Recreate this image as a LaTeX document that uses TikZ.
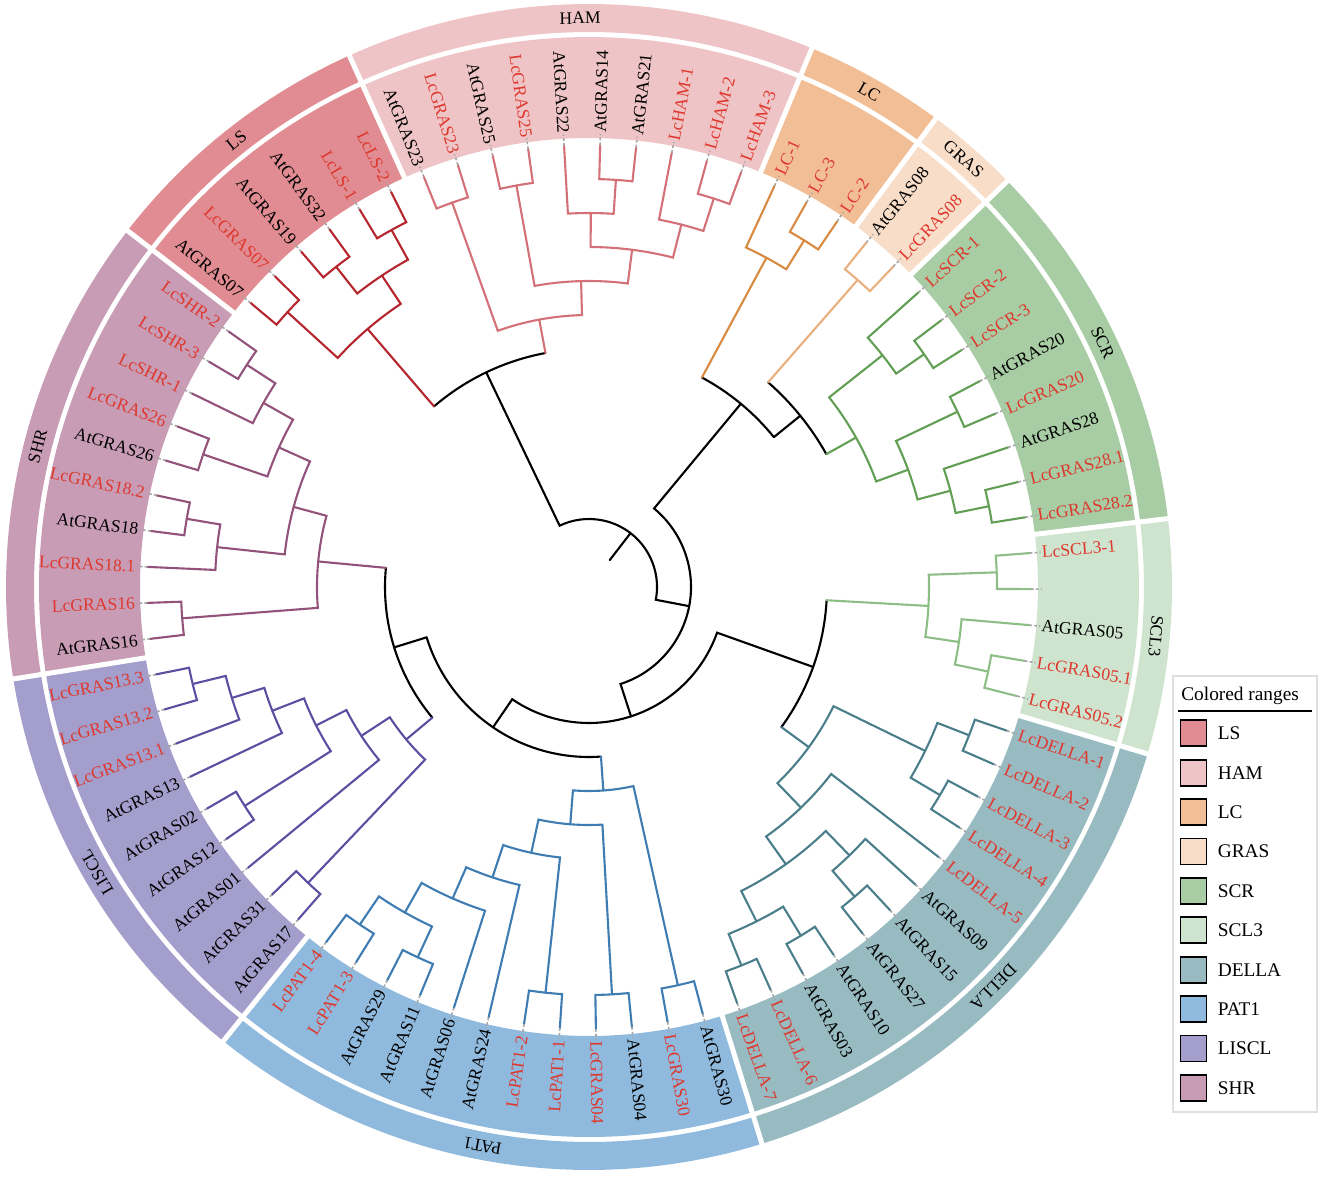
\documentclass[tikz,border=0pt]{standalone}
\usepackage{fontspec}
\setmainfont{Liberation Serif}
\usetikzlibrary{positioning}

\definecolor{lsline}{RGB}{181,38,46}
\definecolor{hamline}{RGB}{212,112,120}
\definecolor{lcline}{RGB}{216,138,66}
\definecolor{grasline}{RGB}{233,176,126}
\definecolor{scrline}{RGB}{98,158,84}
\definecolor{sclline}{RGB}{140,190,134}
\definecolor{dellaline}{RGB}{74,126,138}
\definecolor{patline}{RGB}{62,124,178}
\definecolor{lisline}{RGB}{92,78,160}
\definecolor{shrline}{RGB}{146,82,122}
\definecolor{lsfill}{RGB}{224,140,146}
\definecolor{hamfill}{RGB}{239,196,198}
\definecolor{lcfill}{RGB}{242,190,150}
\definecolor{grasfill}{RGB}{248,221,200}
\definecolor{scrfill}{RGB}{168,204,164}
\definecolor{sclfill}{RGB}{206,228,206}
\definecolor{dellafill}{RGB}{152,187,194}
\definecolor{patfill}{RGB}{144,186,221}
\definecolor{lisfill}{RGB}{164,158,204}
\definecolor{shrfill}{RGB}{200,156,181}
\definecolor{lcred}{RGB}{222,56,46}

\tikzstyle{branch} = [line width=1.2pt, line cap=round]
\tikzstyle{trunk} = [branch, draw=black]
\tikzstyle{lsbr} = [branch, draw=lsline]
\tikzstyle{hambr} = [branch, draw=hamline]
\tikzstyle{lcbr} = [branch, draw=lcline]
\tikzstyle{grasbr} = [branch, draw=grasline]
\tikzstyle{scrbr} = [branch, draw=scrline]
\tikzstyle{sclbr} = [branch, draw=sclline]
\tikzstyle{dellabr} = [branch, draw=dellaline]
\tikzstyle{patbr} = [branch, draw=patline]
\tikzstyle{lisbr} = [branch, draw=lisline]
\tikzstyle{shrbr} = [branch, draw=shrline]
\tikzstyle{leaflabel} = [inner sep=0.6pt, font=\fontsize{10}{12}\selectfont]
\tikzstyle{redlabel} = [text=lcred]
\tikzstyle{leaderline} = [draw=gray!70, line width=0.9pt, dash pattern=on 1.6pt off 1.2pt]
\tikzstyle{cladelabel} = [inner sep=0pt, font=\fontsize{10}{12}\selectfont]
\tikzstyle{gapline} = [draw=white, line width=0.1cm]
\tikzstyle{swatch} = [rectangle, draw=black, line width=1.1pt, minimum size=0.52cm, inner sep=0pt]
\tikzstyle{legitem} = [inner sep=0pt, font=\fontsize{11}{13}\selectfont]

% leaf index -> angle, node level -> radius (px)
\newcommand\tang[1]{(-14.3+4.6753*(#1))}
\newcommand\trad[1]{(442-34*(#1))}
\def\upx{0.02cm}

\newcommand\fork[6][trunk]{%
  \draw[#1] ({\tang{#3}}:{\trad{#4}*\upx}) -- ({\tang{#3}}:{\trad{#2}*\upx})
    arc[start angle={\tang{#3}}, end angle={\tang{#5}}, radius={\trad{#2}*\upx}]
    -- ({\tang{#5}}:{\trad{#6}*\upx});}
\newcommand\twig[8]{%
  \draw[#1] ({\tang{#3}}:{\trad{#2}*\upx})
    arc[start angle={\tang{#3}}, end angle={\tang{#6}}, radius={\trad{#2}*\upx}];
  \draw[#5] ({\tang{#3}}:{\trad{#2}*\upx}) -- ({\tang{#3}}:{\trad{#4}*\upx});
  \draw[#8] ({\tang{#6}}:{\trad{#2}*\upx}) -- ({\tang{#6}}:{\trad{#7}*\upx});}
\newcommand\leafR[3][]{%
  \node[leaflabel, #1, anchor=west, rotate={\tang{#2}}] (lf#2) at ({\tang{#2}}:{453*\upx}) {#3};
  \draw[leaderline] ({\tang{#2}}:{442*\upx}) -- (lf#2.west);}
\newcommand\leafL[3][]{%
  \node[leaflabel, #1, anchor=east, rotate={\tang{#2}-180}] (lf#2) at ({\tang{#2}}:{453*\upx}) {#3};
  \draw[leaderline] ({\tang{#2}}:{442*\upx}) -- (lf#2.east);}
\newcommand\crange[3]{%
  \fill[#1] ({\tang{#2}}:{449*\upx}) arc[start angle={\tang{#2}}, end angle={\tang{#3}}, radius={449*\upx}]
    -- ({\tang{#3}}:{550*\upx}) arc[start angle={\tang{#3}}, end angle={\tang{#2}}, radius={550*\upx}] -- cycle;
  \fill[#1] ({\tang{#2}}:{555*\upx}) arc[start angle={\tang{#2}}, end angle={\tang{#3}}, radius={555*\upx}]
    -- ({\tang{#3}}:{583*\upx}) arc[start angle={\tang{#3}}, end angle={\tang{#2}}, radius={583*\upx}] -- cycle;}
\newcommand\clade[3]{\node[cladelabel, rotate={\tang{#1}-90}] (#2) at ({\tang{#1}}:{569*\upx}) {#3};}

\begin{document}
\begin{tikzpicture}[x=0.02cm, y=0.02cm]
  \useasboundingbox (-589,-590) rectangle (734,587);

  \crange{sclfill}{-0.5}{4.5}
  \crange{scrfill}{4.5}{12.5}
  \crange{grasfill}{12.5}{14.5}
  \crange{lcfill}{14.5}{17.5}
  \crange{hamfill}{17.5}{27.5}
  \crange{lsfill}{27.5}{33.5}
  \crange{shrfill}{-43.5}{-33.5}
  \crange{lisfill}{-33.5}{-24.5}
  \crange{patfill}{-24.5}{-12.5}
  \crange{dellafill}{-12.5}{-0.5}
  \foreach \b in {-43.5,-33.5,-24.5,-12.5,-0.5,4.5,12.5,14.5,17.5,27.5}
    \draw[gapline] ({\tang{\b}}:{445*\upx}) -- ({\tang{\b}}:{590*\upx});

  \clade{2}{sclname}{SCL3}
  \clade{8.5}{scrname}{SCR}
  \clade{13.5}{grasname}{GRAS}
  \clade{16}{lcname}{LC}
  \clade{22.5}{hamname}{HAM}
  \clade{30.5}{lsname}{LS}
  \clade{-38.5}{shrname}{SHR}
  \clade{-29}{lisname}{LISCL}
  \clade{-18.5}{patname}{PAT1}
  \clade{-6.5}{dellaname}{DELLA}

  % LS
  \fork[lsbr]{1}{28}{0}{29}{0}
  \fork[lsbr]{1}{30}{0}{31}{0}
  \fork[lsbr]{2}{28.5}{1}{30.5}{1}
  \fork[lsbr]{1}{32}{0}{33}{0}
  \fork[lsbr]{3}{29.5}{2}{32.5}{1}
  % HAM
  \fork[hambr]{1}{18}{0}{19}{0}
  \fork[hambr]{2}{18.5}{1}{20}{0}
  \fork[hambr]{1}{21}{0}{22}{0}
  \fork[hambr]{2}{21.5}{1}{23}{0}
  \fork[hambr]{3}{19.25}{2}{22.25}{2}
  \fork[hambr]{1}{24}{0}{25}{0}
  \fork[hambr]{4}{20.75}{3}{24.5}{1}
  \fork[hambr]{1}{26}{0}{27}{0}
  \fork[hambr]{5}{22.625}{4}{26.5}{1}
  % LC, GRAS, SCR
  \fork[lcbr]{1}{15}{0}{16}{0}
  \fork[lcbr]{2}{15.5}{1}{17}{0}
  \fork[grasbr]{1}{13}{0}{14}{0}
  \fork[scrbr]{1}{10}{0}{11}{0}
  \fork[scrbr]{2}{10.5}{1}{12}{0}
  \fork[scrbr]{1}{8}{0}{9}{0}
  \fork[scrbr]{1}{5}{0}{6}{0}
  \fork[scrbr]{2}{5.5}{1}{7}{0}
  \fork[scrbr]{3}{6.25}{2}{8.5}{1}
  \fork[scrbr]{4}{7.375}{3}{11.25}{2}
  % SCL3
  \fork[sclbr]{1}{0}{0}{1}{0}
  \fork[sclbr]{2}{0.5}{1}{2}{0}
  \fork[sclbr]{1}{3}{0}{4}{0}
  \fork[sclbr]{3}{1.25}{2}{3.5}{1}
  % DELLA
  \fork[dellabr]{1}{-2}{0}{-1}{0}
  \fork[dellabr]{1}{-4}{0}{-3}{0}
  \fork[dellabr]{2}{-3.5}{1}{-1.5}{1}
  \fork[dellabr]{1}{-8}{0}{-7}{0}
  \fork[dellabr]{2}{-7.5}{1}{-6}{0}
  \fork[dellabr]{1}{-10}{0}{-9}{0}
  \fork[dellabr]{1}{-12}{0}{-11}{0}
  \fork[dellabr]{2}{-11.5}{1}{-9.5}{1}
  \fork[dellabr]{3}{-10.5}{2}{-6.75}{2}
  \fork[dellabr]{4}{-8.625}{3}{-5}{0}
  \fork[dellabr]{5}{-6.8125}{4}{-2.5}{2}
  % PAT1
  \fork[patbr]{1}{-24}{0}{-23}{0}
  \fork[patbr]{1}{-22}{0}{-21}{0}
  \fork[patbr]{2}{-23.5}{1}{-21.5}{1}
  \fork[patbr]{3}{-22.5}{2}{-20}{0}
  \fork[patbr]{4}{-21.25}{3}{-19}{0}
  \fork[patbr]{1}{-18}{0}{-17}{0}
  \fork[patbr]{5}{-20.125}{4}{-17.5}{1}
  \fork[patbr]{1}{-16}{0}{-15}{0}
  \fork[patbr]{6}{-18.8125}{5}{-15.5}{1}
  \fork[patbr]{1}{-14}{0}{-13}{0}
  \fork[patbr]{7}{-17.15625}{6}{-13.5}{1}
  % LISCL
  \fork[lisbr]{1}{-33}{0}{-32}{0}
  \fork[lisbr]{2}{-32.5}{1}{-31}{0}
  \fork[lisbr]{3}{-31.75}{2}{-30}{0}
  \fork[lisbr]{1}{-29}{0}{-28}{0}
  \fork[lisbr]{4}{-30.875}{3}{-28.5}{1}
  \fork[lisbr]{5}{-29.6875}{4}{-27}{0}
  \fork[lisbr]{1}{-26}{0}{-25}{0}
  \fork[lisbr]{6}{-28.34375}{5}{-25.5}{1}
  % SHR
  \fork[shrbr]{1}{-43}{0}{-42}{0}
  \fork[shrbr]{2}{-42.5}{1}{-41}{0}
  \fork[shrbr]{1}{-40}{0}{-39}{0}
  \fork[shrbr]{3}{-41.75}{2}{-39.5}{1}
  \fork[shrbr]{1}{-38}{0}{-37}{0}
  \fork[shrbr]{2}{-37.5}{1}{-36}{0}
  \fork[shrbr]{4}{-40.625}{3}{-36.75}{2}
  \fork[shrbr]{1}{-35}{0}{-34}{0}
  \fork[shrbr]{5}{-38.6875}{4}{-34.5}{1}

  % backbone
  \twig{trunk}{6}{24.5625}{5}{hambr}{31}{3}{lsbr}
  \twig{trunk}{5}{9.3125}{4}{scrbr}{13.5}{1}{grasbr}
  \twig{trunk}{6}{11.40625}{5}{trunk}{16.25}{2}{lcbr}
  \twig{trunk}{6}{-4.65625}{5}{dellabr}{2.375}{3}{sclbr}
  \twig{trunk}{7}{-36.59375}{5}{shrbr}{-26.921875}{6}{lisbr}
  \twig{trunk}{8}{-31.7578125}{7}{trunk}{-15.328125}{7}{patbr}
  \fork{9}{-23.54296875}{8}{-1.140625}{6}
  \fork{10}{-12.341796875}{9}{13.828125}{6}
  \fork{11}{0.7431640625}{10}{27.78125}{6}
  \draw[trunk] ({\tang{14.2622}}:{\trad{12}*\upx}) -- ({\tang{14.2622}}:{\trad{11}*\upx});

  % leaf labels
  \leafR[redlabel]{-16}{LcGRAS04}
  \leafR{-15}{AtGRAS04}
  \leafR[redlabel]{-14}{LcGRAS30}
  \leafR{-13}{AtGRAS30}
  \leafR[redlabel]{-12}{LcDELLA-7}
  \leafR[redlabel]{-11}{LcDELLA-6}
  \leafR{-10}{AtGRAS03}
  \leafR{-9}{AtGRAS10}
  \leafR{-8}{AtGRAS27}
  \leafR{-7}{AtGRAS15}
  \leafR{-6}{AtGRAS09}
  \leafR[redlabel]{-5}{LcDELLA-5}
  \leafR[redlabel]{-4}{LcDELLA-4}
  \leafR[redlabel]{-3}{LcDELLA-3}
  \leafR[redlabel]{-2}{LcDELLA-2}
  \leafR[redlabel]{-1}{LcDELLA-1}
  \leafR[redlabel]{0}{LcGRAS05.2}
  \leafR[redlabel]{1}{LcGRAS05.1}
  \leafR{2}{AtGRAS05}
  \leafR{3}{}
  \leafR[redlabel]{4}{LcSCL3-1}
  \leafR[redlabel]{5}{LcGRAS28.2}
  \leafR[redlabel]{6}{LcGRAS28.1}
  \leafR{7}{AtGRAS28}
  \leafR[redlabel]{8}{LcGRAS20}
  \leafR{9}{AtGRAS20}
  \leafR[redlabel]{10}{LcSCR-3}
  \leafR[redlabel]{11}{LcSCR-2}
  \leafR[redlabel]{12}{LcSCR-1}
  \leafR[redlabel]{13}{LcGRAS08}
  \leafR{14}{AtGRAS08}
  \leafR[redlabel]{15}{LC-2}
  \leafR[redlabel]{16}{LC-3}
  \leafR[redlabel]{17}{LC-1}
  \leafR[redlabel]{18}{LcHAM-3}
  \leafR[redlabel]{19}{LcHAM-2}
  \leafR[redlabel]{20}{LcHAM-1}
  \leafR{21}{AtGRAS21}
  \leafR{22}{AtGRAS14}
  \leafL{23}{AtGRAS22}
  \leafL[redlabel]{24}{LcGRAS25}
  \leafL{25}{AtGRAS25}
  \leafL[redlabel]{26}{LcGRAS23}
  \leafL{27}{AtGRAS23}
  \leafL[redlabel]{28}{LcLS-2}
  \leafL[redlabel]{29}{LcLS-1}
  \leafL{30}{AtGRAS32}
  \leafL{31}{AtGRAS19}
  \leafL[redlabel]{32}{LcGRAS07}
  \leafL{33}{AtGRAS07}
  \leafL[redlabel]{-43}{LcSHR-2}
  \leafL[redlabel]{-42}{LcSHR-3}
  \leafL[redlabel]{-41}{LcSHR-1}
  \leafL[redlabel]{-40}{LcGRAS26}
  \leafL{-39}{AtGRAS26}
  \leafL[redlabel]{-38}{LcGRAS18.2}
  \leafL{-37}{AtGRAS18}
  \leafL[redlabel]{-36}{LcGRAS18.1}
  \leafL[redlabel]{-35}{LcGRAS16}
  \leafL{-34}{AtGRAS16}
  \leafL[redlabel]{-33}{LcGRAS13.3}
  \leafL[redlabel]{-32}{LcGRAS13.2}
  \leafL[redlabel]{-31}{LcGRAS13.1}
  \leafL{-30}{AtGRAS13}
  \leafL{-29}{AtGRAS02}
  \leafL{-28}{AtGRAS12}
  \leafL{-27}{AtGRAS01}
  \leafL{-26}{AtGRAS31}
  \leafL{-25}{AtGRAS17}
  \leafL[redlabel]{-24}{LcPAT1-4}
  \leafL[redlabel]{-23}{LcPAT1-3}
  \leafL{-22}{AtGRAS29}
  \leafL{-21}{AtGRAS11}
  \leafL{-20}{AtGRAS06}
  \leafL{-19}{AtGRAS24}
  \leafL[redlabel]{-18}{LcPAT1-2}
  \leafL[redlabel]{-17}{LcPAT1-1}

  % legend
  \draw[draw=gray!25, line width=0.8pt, fill=white] (584,-89) rectangle (728,-525);
  \node[legitem, anchor=base west] (legtitle) at (592,-113) {Colored ranges};
  \draw[line width=1.2pt] (589,-124) -- (723,-124);
  \foreach \lab/\col [count=\k from 0] in {LS/lsfill, HAM/hamfill, LC/lcfill, GRAS/grasfill,
      SCR/scrfill, SCL3/sclfill, DELLA/dellafill, PAT1/patfill, LISCL/lisfill, SHR/shrfill} {
    \node[swatch, fill=\col] (sw\k) at (604.5,{-146.3-39.4*\k}) {};
    \node[legitem, right=0.2cm of sw\k] (lg\k) {\lab};
  }
\end{tikzpicture}
\end{document}
